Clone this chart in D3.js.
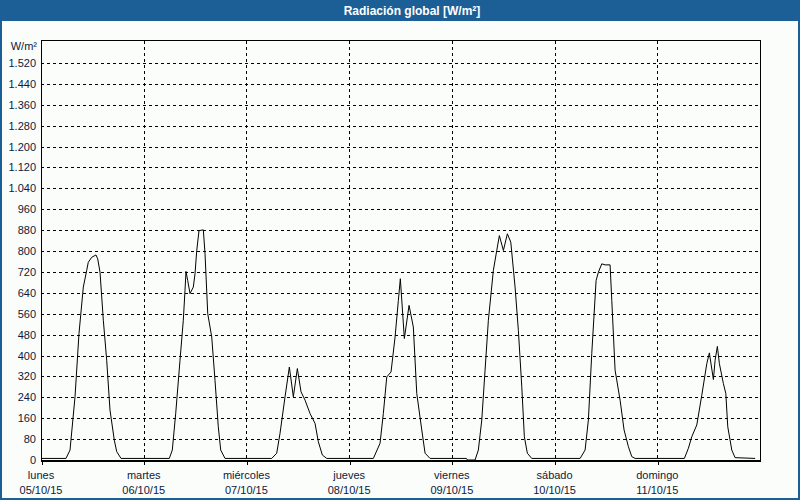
<!DOCTYPE html>
<html><head><meta charset="utf-8">
<script src="https://cdn.jsdelivr.net/npm/d3@7"></script>
<style>
html,body{margin:0;padding:0;background:#fbfdfb;}
svg{display:block;}
</style></head>
<body><svg id="c" width="800" height="500"></svg>
<script>
// ---- data ----
const title = "Radiación global [W/m²]";
const unitLabel = "W/m²";
const dayNames = ["lunes","martes","miércoles","jueves","viernes","sábado","domingo"];
const dayDates = ["05/10/15","06/10/15","07/10/15","08/10/15","09/10/15","10/10/15","11/10/15"];
const dayStartHours = [0,24,48,72,96,120,144];
const yTickValues = [0,80,160,240,320,400,480,560,640,720,800,880,960,1040,1120,1200,1280,1360,1440,1520];
// hours since 05/10/15 00:00
const hours = [
 0,5.84,6.78,7.95,8.88,9.89,10.68,11.05,11.85,12.85,13.25,13.79,14.56,15.35,16.12,17.13,17.69,18.70,
 29.98,30.68,31.48,32.48,33.25,33.65,33.88,34.28,34.82,35.59,35.99,36.39,36.92,37.93,38.33,38.96,39.89,40.66,41.43,41.99,43.00,
 53.91,55.08,55.85,57.02,58.03,58.96,59.90,60.76,61.70,62.86,64.03,64.80,65.74,66.77,
 77.66,79.22,79.99,80.79,81.79,82.73,83.50,83.96,84.90,86.00,87.00,87.80,88.97,89.74,90.91,
 99.40,99.65,101.42,102.19,102.99,103.76,104.53,105.70,106.49,107.10,108.04,108.97,109.77,110.77,111.54,112.34,112.94,113.64,114.67,
 125.96,127.13,127.90,128.69,129.70,130.24,131.03,131.80,132.97,133.37,134.14,135.31,136.24,137.25,138.04,138.81,
 150.33,151.27,152.06,153.23,154.40,155.57,156.17,157.11,157.51,158.04,158.51,159.44,160.01,160.47,161.41,162.18,166.86
];
// W/m²
const values = [
 6,6,38,242,485,662,726,757,776,785,770,719,535,382,191,76,32,6,
 6,38,179,382,535,649,722,687,637,662,713,802,878,881,789,560,471,305,127,38,6,
 6,26,102,242,356,242,350,261,229,178,140,70,19,6,
 6,64,178,318,337,471,611,694,465,592,509,255,115,26,6,
 6,0,0,38,153,344,535,726,802,859,802,866,834,662,496,280,89,26,6,
 6,38,153,407,687,719,751,747,747,611,344,229,115,51,13,6,
 6,45,89,134,248,369,410,308,382,435,369,293,255,127,38,9,6
];

// ---- layout ----
const W = 800, H = 500;
const L = 41, R = 760, T = 41, B = 460;
const svg = d3.select("#c");

// window frame & title bar
svg.append("rect").attr("x",0).attr("y",0).attr("width",W).attr("height",H).attr("fill","#fbfdfb");
svg.append("rect").attr("x",0).attr("y",0).attr("width",W).attr("height",21).attr("fill","#1c5f96");
svg.append("rect").attr("x",1).attr("y",1).attr("width",W-2).attr("height",H-2)
  .attr("fill","none").attr("stroke","#1c5f96").attr("stroke-width",2);
svg.append("text").attr("x",412).attr("y",15).attr("text-anchor","middle")
  .attr("font-family","Liberation Sans, Arial, sans-serif").attr("font-weight","bold")
  .attr("font-size",12).attr("fill","#ffffff").text(title);

const x = d3.scaleLinear().domain([0,168]).range([L,R]);
const y = d3.scaleLinear().domain([0,1600]).range([B,B-(B-T)*1600/1604]);

const locale = d3.formatLocale({decimal:",",thousands:".",grouping:[3],currency:["","€"]});
const fmt = locale.format(",d");
const font = "Liberation Sans, Arial, sans-serif";

// horizontal grid
svg.append("g").selectAll("line").data(yTickValues.filter(v=>v>0)).join("line")
  .attr("x1",L).attr("x2",R)
  .attr("y1",d=>Math.round(y(d))+0.5).attr("y2",d=>Math.round(y(d))+0.5)
  .attr("stroke","#000").attr("stroke-width",1).attr("stroke-dasharray","3,3")
  .attr("shape-rendering","crispEdges");

// vertical grid (day boundaries)
svg.append("g").selectAll("line").data(dayStartHours.filter(h=>h>0)).join("line")
  .attr("x1",d=>Math.round(x(d))+0.5).attr("x2",d=>Math.round(x(d))+0.5)
  .attr("y1",T).attr("y2",B)
  .attr("stroke","#000").attr("stroke-width",1).attr("stroke-dasharray","3,3")
  .attr("shape-rendering","crispEdges");

// y axis labels
const yAxis = d3.axisLeft(y).tickValues(yTickValues).tickFormat(fmt).tickSize(0).tickPadding(5);
const gy = svg.append("g").attr("transform",`translate(${L},0)`).call(yAxis);
gy.select(".domain").remove();
gy.selectAll("text").attr("font-family",font).attr("font-size",11).attr("fill","#0b1a3c");

svg.append("text").attr("x",L-4).attr("y",50).attr("text-anchor","end")
  .attr("font-family",font).attr("font-size",11).attr("fill","#0b1a3c").text(unitLabel);

// x axis
const xAxis = d3.axisBottom(x).tickValues(dayStartHours).tickSize(4).tickFormat("");
const gx = svg.append("g").attr("transform",`translate(0,${B+0.5})`).call(xAxis);
gx.select(".domain").remove();
gx.selectAll(".tick line").attr("stroke","#000").attr("shape-rendering","crispEdges")
  .attr("transform","translate(0.5,0)");
const lab = svg.append("g").selectAll("text").data(dayStartHours).join("text")
  .attr("text-anchor","middle").attr("font-family",font).attr("font-size",11).attr("fill","#0b1a3c");
lab.append("tspan").attr("x",d=>x(d)).attr("y",479).text((d,i)=>dayNames[i]);
lab.append("tspan").attr("x",d=>x(d)).attr("y",494).text((d,i)=>dayDates[i]);

// plot border
svg.append("rect").attr("x",L+0.5).attr("y",T-0.5).attr("width",R-L).attr("height",B-T+1)
  .attr("fill","none").attr("stroke","#000").attr("stroke-width",1).attr("shape-rendering","crispEdges");
svg.append("line").attr("x1",L).attr("x2",R+1).attr("y1",B+0.5).attr("y2",B+0.5)
  .attr("stroke","#000").attr("stroke-width",2).attr("shape-rendering","crispEdges");

// series line
const pts = hours.map((h,i)=>[h,values[i]]);
svg.append("path").datum(pts)
  .attr("d", d3.line().x(d=>x(d[0])).y(d=>y(d[1])))
  .attr("fill","none").attr("stroke","#000").attr("stroke-width",1);
</script></body></html>
